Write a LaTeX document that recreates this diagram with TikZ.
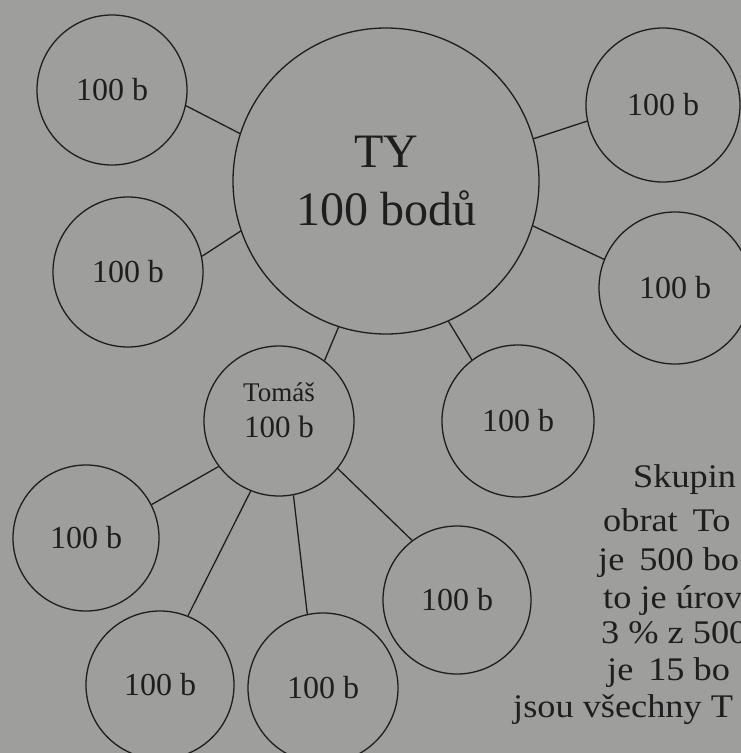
\documentclass[tikz,border=0pt]{standalone}
\usepackage{fontspec}
\setmainfont{Liberation Serif}
\newfontfamily\parfont[FakeStretch=1.1]{Liberation Serif}
\usepackage{xcolor}
\usepackage{tikz}
\usetikzlibrary{positioning}
\definecolor{ink}{RGB}{30,30,30}
\definecolor{paper}{RGB}{158,158,156}

\begin{document}
\begin{tikzpicture}[x=1pt,y=-1pt,
 bal/.style={circle,draw=ink,line width=1.3pt,minimum size=150pt,inner sep=0pt,text=ink,font=\fontsize{32}{36}\selectfont},
 hub/.style={bal,minimum size=306pt,align=center,font=\fontsize{48}{58}\selectfont},
 tx/.style={text=ink,inner sep=0pt,align=center,font=\fontsize{31}{36}\selectfont},
 pl/.style={text=ink,inner sep=0pt,anchor=base west,font=\parfont\fontsize{33}{37}\selectfont},
 ln/.style={draw=ink,line width=1.3pt}]
 \useasboundingbox (0,0) rectangle (741,753);
 \fill[paper] (0,0) rectangle (741,753);
 \clip (0,0) rectangle (741,753);
 % upper group
 \node[hub] (ty) at (386,181) {TY\\100 bodů};
 \node[bal] (a1) at (112,90) {100 b};
 \node[bal] (a2) at (128,272) {100 b};
 \node[bal,minimum size=154pt] (a3) at (663,105) {100 b};
 \node[bal,minimum size=152pt] (a4) at (675,288) {100 b};
 \node[bal,minimum size=152pt] (a5) at (518,421) {100 b};
 \node[bal] (tomas) at (279,421) {};
 \node[tx] (tomasT) at ([yshift=11pt]tomas.center) {{\fontsize{27}{36}\selectfont Tomáš}\\100 b};
 \draw[ln] (a1.-12) -- (ty.162);
 \draw[ln] (a2.12) -- (ty.-161);
 \draw[ln] (a3.192) -- (ty.16);
 \draw[ln] (a4.158) -- (ty.-17);
 \draw[ln] (tomas.53) -- (ty.-108);
 \draw[ln] (a5.127) -- (ty.-66);
 % Tomas group
 \node[bal,minimum size=146pt] (b1) at (86,538) {100 b};
 \node[bal,minimum size=148pt] (b2) at (160,685) {100 b};
 \node[bal] (b3) at (323,688) {100 b};
 \node[bal,minimum size=148pt] (b4) at (457,600) {100 b};
 \draw[ln] (tomas.-143) -- (b1.27);
 \draw[ln] (tomas.-112) -- (b2.68);
 \draw[ln] (tomas.-79) -- (b3.102);
 \draw[ln] (tomas.-39) -- (b4.127);
 % text at the right, cut by the edge
 \foreach \x/\y/\t [count=\i] in {633/487/Skupin,603/531/obrat\hspace{.45em}To,598/570/je\hspace{.45em}500 bo,603/608/to je úrov,601/643/3 \% z 500,607/680/je\hspace{.45em}15 bo,513/717/jsou všechny T}
   \node[pl] (p\i) at (\x,\y) {\t};
\end{tikzpicture}
\end{document}
